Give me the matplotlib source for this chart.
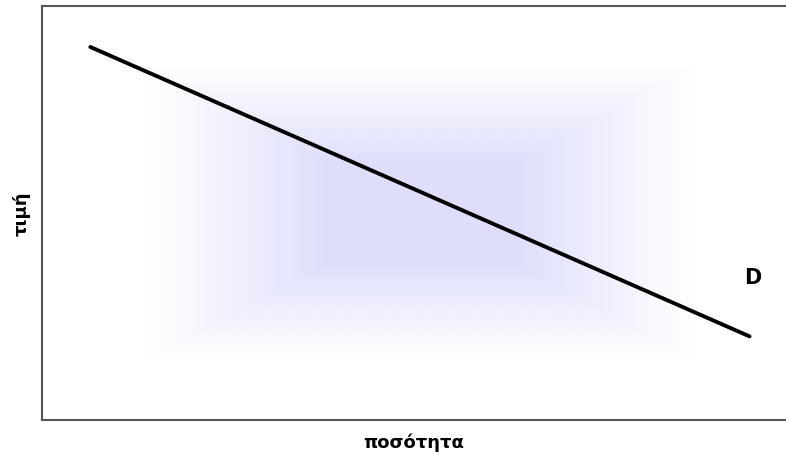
import matplotlib.pyplot as plt
import numpy as np

# demand curve end points (arbitrary units)
qty = [0.65, 9.51]
price = [9.01, 2.02]
curve_label = "D"

fig = plt.figure(figsize=(7.86, 4.56), dpi=100)
ax = fig.add_axes([42/786, 35/456, 744/786, 414/456])
ax.set_xlim(0, 10)
ax.set_ylim(0, 10)

# soft lavender glow behind the line
n = 300
u = np.linspace(-1, 1, n)
U, V = np.meshgrid(u, u)
d = np.maximum(np.abs(U), np.abs(V))
a = np.clip((1 - d) / 0.65, 0, 1) ** 1.1 * 0.5
img = np.zeros((n, n, 4))
img[..., 0] = 190/255
img[..., 1] = 190/255
img[..., 2] = 248/255
img[..., 3] = a
ax.imshow(img, extent=[1.39, 8.80, 1.37, 8.60], aspect='auto', zorder=1, interpolation='bilinear')

ax.plot(qty, price, color='black', linewidth=2.8, solid_capstyle='round', zorder=3)
ax.text(9.55, 3.45, curve_label, fontsize=15, fontweight='bold', ha='center', va='center')

ax.set_xticks([])
ax.set_yticks([])
for s in ['left', 'bottom', 'top']:
    ax.spines[s].set_color('#555555')
    ax.spines[s].set_linewidth(1.5)
ax.spines['right'].set_visible(False)

ax.set_xlabel('ποσότητα', fontsize=13, fontweight='bold', labelpad=9)
ax.set_ylabel('τιμή', fontsize=13, fontweight='bold', labelpad=8)

plt.savefig('out.png', dpi=100)
